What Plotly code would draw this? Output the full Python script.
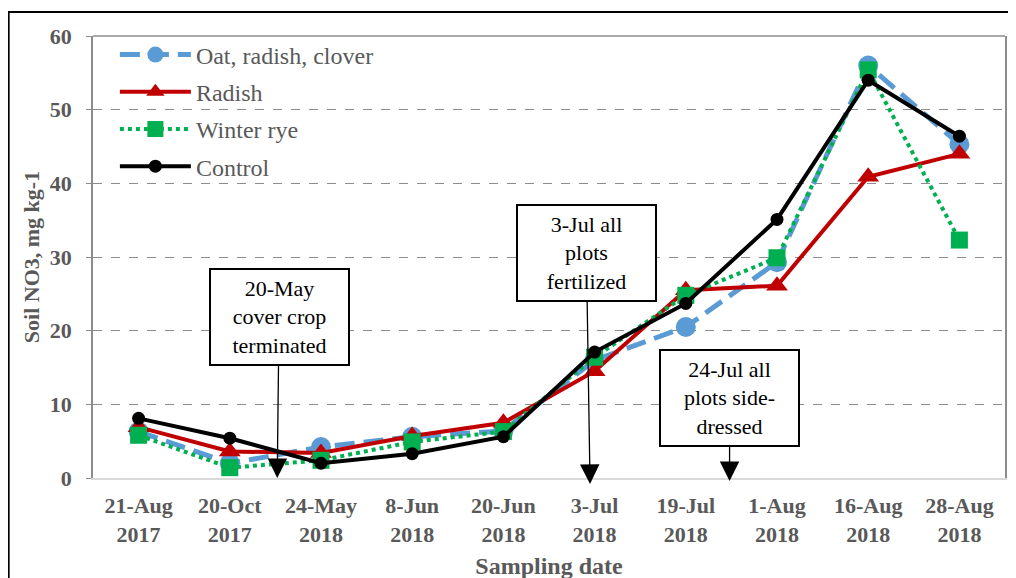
import plotly.graph_objects as go

dates = ["21-Aug<br>2017", "20-Oct<br>2017", "24-May<br>2018", "8-Jun<br>2018", "20-Jun<br>2018",
         "3-Jul<br>2018", "19-Jul<br>2018", "1-Aug<br>2018", "16-Aug<br>2018", "28-Aug<br>2018"]
oat_radish_clover = [6.3, 2.0, 4.2, 5.6, 6.4, 16.0, 20.5, 29.3, 56.0, 45.3]
radish = [6.9, 3.6, 3.4, 5.7, 7.5, 14.5, 25.5, 26.1, 40.9, 44.0]
winter_rye = [5.8, 1.4, 2.4, 4.9, 6.3, 16.4, 24.8, 29.9, 55.4, 32.3]
control = [8.1, 5.4, 2.0, 3.3, 5.6, 17.1, 23.7, 35.1, 54.0, 46.4]

serif = "Liberation Serif"
grey = "#595959"

fig = go.Figure()

fig.add_trace(go.Scatter(
    x=dates, y=oat_radish_clover, name="Oat, radish, clover", legendgroup="a",
    mode="lines+markers", cliponaxis=False,
    line=dict(color="#5B9BD5", width=5, dash="20px,9px"),
    marker=dict(symbol="circle", size=20, color="#5B9BD5"),
))
fig.add_trace(go.Scatter(
    x=dates, y=radish, name="Radish", legendgroup="b",
    mode="lines+markers", cliponaxis=False,
    line=dict(color="#C00000", width=4),
    marker=dict(symbol="triangle-up", size=19, color="#C00000"),
))
fig.add_trace(go.Scatter(
    x=dates, y=winter_rye, name="Winter rye", legendgroup="c",
    mode="lines+markers", cliponaxis=False,
    line=dict(color="#00B050", width=4, dash="dot"),
    marker=dict(symbol="square", size=17, color="#00B050"),
))
fig.add_trace(go.Scatter(
    x=dates, y=control, name="Control", legendgroup="d",
    mode="lines+markers", cliponaxis=False,
    line=dict(color="#000000", width=4),
    marker=dict(symbol="circle", size=13, color="#000000"),
))

# event call-outs with arrows pointing to the x axis
notes = [
    ("20-May<br>cover crop<br>terminated", 1.52, 0, 1.54, 21.8),
    ("3-Jul all<br>plots<br>fertilized", 4.95, -0.8, 4.91, 30.5),
    ("24-Jul all<br>plots side-<br>dressed", 6.48, -0.4, 6.48, 10.9),
]
for txt, x, y, bx, by in notes:
    fig.add_annotation(
        text=txt, x=x, y=y, ax=bx, ay=by, xref="x", yref="y", axref="x", ayref="y",
        showarrow=True, arrowhead=2, arrowsize=3, arrowwidth=1.3, arrowcolor="black",
        font=dict(family=serif, size=22, color="black"),
        bgcolor="white", bordercolor="black", borderwidth=2,
        width=135, height=92, align="center",
    )

fig.update_layout(
    width=1016, height=578,
    plot_bgcolor="white", paper_bgcolor="white",
    margin=dict(l=85, r=19, t=28, b=108),
    font=dict(family=serif, color=grey),
    showlegend=True,
    legend=dict(
        x=0.024, y=1.008, xanchor="left", yanchor="top",
        font=dict(family=serif, size=24, color=grey),
        bgcolor="rgba(0,0,0,0)", tracegroupgap=3, itemwidth=71,
    ),
    shapes=[
        # outer frame
        dict(type="rect", xref="paper", yref="paper", x0=-0.0925, x1=1.08, y0=-0.4, y1=1.0543,
             line=dict(color="black", width=2)),
        # top of plot area
        dict(type="line", xref="paper", yref="paper", x0=0, x1=1, y0=1, y1=1,
             line=dict(color="#8c8c8c", width=1.5)),
    ],
)

fig.update_xaxes(
    type="category", range=[-0.5, 9.5],
    showgrid=False, showline=True, linecolor="#d9d9d9", linewidth=2, ticks="",
    tickfont=dict(family=serif, size=22, color=grey),
    ticklabelstandoff=7,
    title=dict(text="<b>Sampling date</b>", font=dict(family=serif, size=24, color=grey), standoff=11),
    tickprefix="<b>", ticksuffix="</b>",
)
fig.update_yaxes(
    range=[0, 60], dtick=10,
    showgrid=True, gridcolor="#8c8c8c", griddash="dash", gridwidth=1,
    showline=True, mirror=True, linecolor="#8c8c8c", linewidth=1.5,
    ticks="outside", ticklen=5, tickcolor="#8c8c8c",
    tickfont=dict(family=serif, size=22, color=grey),
    ticklabelstandoff=10,
    tickprefix="<b>", ticksuffix="</b>",
    title=dict(text="<b>Soil NO3, mg kg-1</b>", font=dict(family=serif, size=22, color=grey), standoff=4),
    zeroline=False,
)

fig.write_html("out.html")
